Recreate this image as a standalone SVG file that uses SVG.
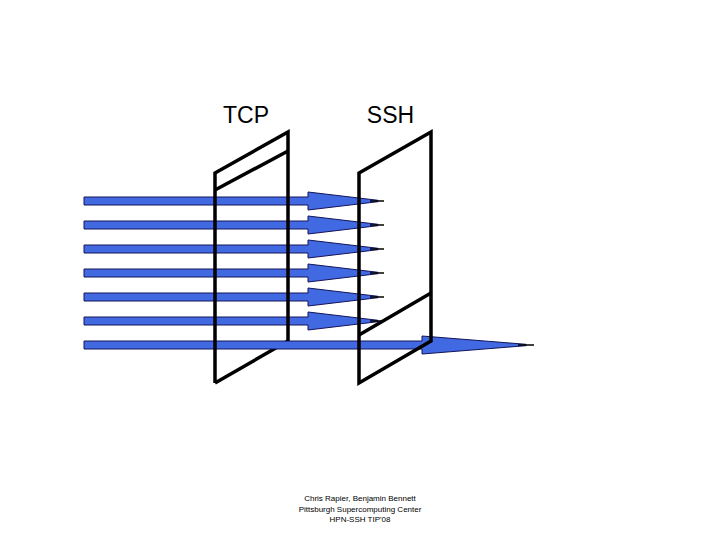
<svg xmlns="http://www.w3.org/2000/svg" xmlns:xlink="http://www.w3.org/1999/xlink" width="720" height="540" viewBox="0 0 720 540">
  <style>
    .plane { fill: none; stroke: #000; stroke-width: 3.5; stroke-linejoin: miter; stroke-linecap: butt; }
    .body { fill: #4169E1; stroke: #14145a; stroke-width: 1; stroke-linejoin: miter; }
    .tip { stroke: #000; stroke-width: 1.5; }
    .label { font-family: "Liberation Sans", Arial, sans-serif; font-size: 23px; fill: #000; text-anchor: middle; }
    .foot { font-family: "Liberation Sans", Arial, sans-serif; font-size: 8px; fill: #000; text-anchor: middle; }
  </style>
  <defs>
    <g id="arrow-short">
      <path class="body" d="M84,197 H308 V192 L378,200.3 V201.7 L308,210 V205 H84 Z"/>
      <line class="tip" x1="370" y1="201" x2="384" y2="201"/>
    </g>
  </defs>
  <rect width="720" height="540" fill="#fff"/>

  <g id="tcp-plane-back">
    <path class="plane" d="M288,341 L215,383"/>
  </g>

  <g id="connectors">
    <use xlink:href="#arrow-short"/>
    <use xlink:href="#arrow-short" transform="translate(0,24)"/>
    <use xlink:href="#arrow-short" transform="translate(0,48)"/>
    <use xlink:href="#arrow-short" transform="translate(0,72)"/>
    <use xlink:href="#arrow-short" transform="translate(0,96)"/>
    <use xlink:href="#arrow-short" transform="translate(0,120)"/>
    <g id="arrow-long">
      <path class="body" d="M84,341 H422 V336 L526,344.3 V345.7 L422,354 V349 H84 Z"/>
      <line class="tip" x1="518" y1="345" x2="534" y2="345"/>
    </g>
  </g>

  <g id="tcp">
    <path class="plane" d="M215,383 V173 L288,132 V341"/>
    <path class="plane" d="M215,190 L288,151"/>
    <text class="label" x="246" y="123">TCP</text>
  </g>

  <g id="ssh">
    <path class="plane" d="M359,383 V173 L431,132 V341 L359,383 Z"/>
    <path class="plane" d="M359,335 L431,293"/>
    <text class="label" x="390.5" y="123">SSH</text>
  </g>

  <g id="footer">
    <text class="foot" x="360" y="501">Chris Rapier, Benjamin Bennett</text>
    <text class="foot" x="360" y="511.5">Pittsburgh Supercomputing Center</text>
    <text class="foot" x="360" y="522">HPN-SSH TIP'08</text>
  </g>
</svg>
